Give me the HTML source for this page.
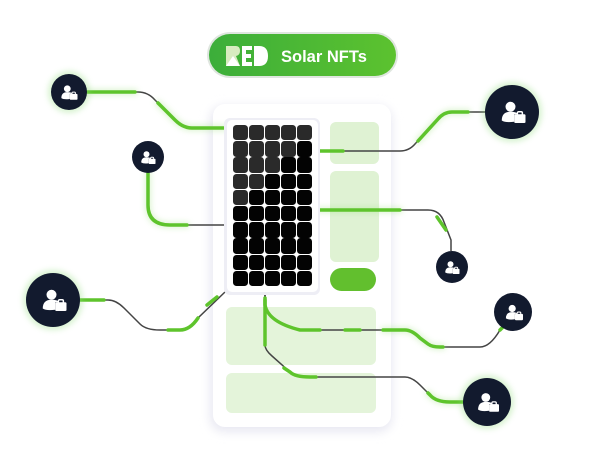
<!DOCTYPE html>
<html><head><style>
html,body{margin:0;padding:0;background:#fff;}
body{width:602px;height:455px;overflow:hidden;position:relative;font-family:"Liberation Sans",sans-serif;}
</style></head><body>
<svg width="602" height="455" viewBox="0 0 602 455" xmlns="http://www.w3.org/2000/svg">
<defs>
<filter id="sh" x="-20%" y="-20%" width="140%" height="140%"><feGaussianBlur stdDeviation="5"/></filter>
<filter id="gl" x="-50%" y="-50%" width="200%" height="200%"><feGaussianBlur stdDeviation="3"/></filter>
<linearGradient id="pg" x1="0" x2="1"><stop offset="0" stop-color="#3cae3a"/><stop offset="1" stop-color="#5cc22f"/></linearGradient>
<g id="ic"><circle cx="-2" cy="-5" r="4" fill="#fff"/><path d="M-9 6 Q-9 -1 -2 -1 Q3 -1 4 1 L1 1 L1 7 Q-6 8 -9 6Z" fill="#fff"/><rect x="1" y="1" width="9" height="7" rx="1" fill="#fff"/><rect x="3.5" y="-1" width="4" height="3" rx="1" fill="none" stroke="#fff" stroke-width="1.2"/></g>
</defs>
<rect x="210" y="106" width="182" height="326" rx="14" fill="#e8e8f2" filter="url(#sh)"/>
<rect x="213" y="104" width="178" height="323" rx="12" fill="#fff"/>
<rect x="330" y="122" width="49" height="42" rx="6" fill="#dff2d3"/>
<rect x="330" y="171" width="49" height="91" rx="6" fill="#dff2d3"/>
<rect x="330" y="268" width="46" height="23" rx="11.5" fill="#62bf2e"/>
<rect x="226" y="307" width="150" height="58" rx="6" fill="#e4f4da"/>
<rect x="226" y="373" width="150" height="40" rx="6" fill="#e4f4da"/>
<g fill="none" stroke="#444" stroke-width="1.5">
<path d="M87 92 H138 Q148 92 155 100 L175 120 Q183 128 192 128 H227"/>
<path d="M148 173 V205 Q148 225 170 225 H227"/>
<path d="M485 112 H452 Q444 112 438 119 L415 144 Q409 151 400 151 H318"/>
<path d="M318 210 H428 Q440 210 444 222 L451 240 V251"/>
<path d="M80 300 H108 Q116 300 124 308 L140 324 Q146 330 160 330 H180 Q190 330 198 318 L225 292"/>
<path d="M265 292 V305 Q268 322 300 330 H405 Q412 330 420 338 L428 344 Q432 347 440 347 H480 Q490 347 500 330"/>
<path d="M265 292 V345 Q265 350 272 356 L290 372 Q295 377 310 377 H405 Q412 377 420 385 L430 395 Q436 402 450 402 H463"/>
</g>
<g fill="none" stroke-linecap="round">
<g stroke="#9be07a" stroke-width="6" opacity=".35" filter="url(#gl)" id="glw">
<path d="M87 92 H135"/><path d="M158 103 L175 120 Q183 128 192 128 H227"/><path d="M148 173 V205 Q148 225 170 225 H187"/><path d="M468 112 H452 Q444 112 438 119 L418 141"/><path d="M318 210 H400"/><path d="M383 330 H405 Q412 330 420 338 L428 344 Q432 347 440 347 H443"/><path d="M428 393 L430 395 Q436 402 450 402 H463"/>
</g>
<g stroke="#5ec42c" stroke-width="3.5">
<path d="M87 92 H135"/>
<path d="M158 103 L175 120 Q183 128 192 128 H227"/>
<path d="M148 173 V205 Q148 225 170 225 H187"/>
<path d="M468 112 H452 Q444 112 438 119 L418 141"/>
<path d="M318 151 H343"/>
<path d="M318 210 H400"/>
<path d="M437 217 L446 230"/>
<path d="M80 300 H104"/>
<path d="M168 330 H180 Q190 330 198 318"/>
<path d="M207 305 L217 297"/>
<path d="M265 300 V305 Q268 322 300 330 H320"/>
<path d="M345 330 H360"/>
<path d="M383 330 H405 Q412 330 420 338 L428 344 Q432 347 440 347 H443"/>
<path d="M500 330 L505 325"/>
<path d="M265 298 V345"/>
<path d="M284 368 L290 372 Q295 377 310 377 H316"/>
<path d="M428 393 L430 395 Q436 402 450 402 H463"/>
</g>
</g>
<rect x="224" y="118" width="96" height="177" rx="6" fill="#eeeef5"/>
<rect x="227" y="120" width="91" height="172" rx="5" fill="#fff"/>
<g>
<circle cx="69" cy="92" r="21" fill="#8fdc7a" opacity=".35" filter="url(#gl)"/>
<circle cx="69" cy="92" r="18" fill="#121a2e"/><use href="#ic" transform="translate(69 93) scale(0.85)"/>
<circle cx="148" cy="157" r="16" fill="#121a2e"/><use href="#ic" transform="translate(148 158) scale(0.75)"/>
<circle cx="512" cy="112" r="30" fill="#8fdc7a" opacity=".35" filter="url(#gl)"/>
<circle cx="512" cy="112" r="27" fill="#121a2e"/><use href="#ic" transform="translate(513 113) scale(1.25)"/>
<circle cx="452" cy="267" r="16" fill="#121a2e"/><use href="#ic" transform="translate(452 268) scale(0.75)"/>
<circle cx="53" cy="300" r="30" fill="#8fdc7a" opacity=".35" filter="url(#gl)"/>
<circle cx="53" cy="300" r="27" fill="#121a2e"/><use href="#ic" transform="translate(54 301) scale(1.25)"/>
<circle cx="513" cy="312" r="19" fill="#121a2e"/><use href="#ic" transform="translate(514 313) scale(0.9)"/>
<circle cx="487" cy="402" r="27" fill="#8fdc7a" opacity=".35" filter="url(#gl)"/>
<circle cx="487" cy="402" r="24" fill="#121a2e"/><use href="#ic" transform="translate(488 403) scale(1.1)"/>
</g>
<rect x="207" y="32" width="191" height="46" rx="23" fill="#dfe6df"/>
<rect x="209" y="34" width="187" height="42" rx="21" fill="url(#pg)"/>
<path d="M226 46 H236 Q240 46 240 51 Q240 55 236 56 L240 66 H226Z" fill="#d8ecc0"/>
<path d="M226 66 L233 56 L240 66Z" fill="#fff"/>
<path d="M242 46 H252 V50 H246 V54 H251 V58 H246 V62 H252 V66 H242Z" fill="#fff"/>
<path d="M254 46 H259 Q268 46 268 56 Q268 66 259 66 H254Z" fill="#fff"/>
<text x="281" y="62" font-family="Liberation Sans" font-weight="bold" font-size="16.5" fill="#fff">Solar NFTs</text>
</svg>
<div id="grid" style="position:absolute;left:233px;top:125px;width:80px;height:162px;"></div>
<script>
var g=document.getElementById('grid');var h='';
for(var r=0;r<10;r++)for(var c=0;c<5;c++){
var col=(r<5 && c+r<5)?'#2a2a2a':'#030303';
h+='<div style="position:absolute;left:'+(c*16)+'px;top:'+(r*16.2)+'px;width:15.2px;height:15.4px;border-radius:3.5px;background:'+col+'"></div>';}
g.innerHTML=h;
</script>
</body></html>
